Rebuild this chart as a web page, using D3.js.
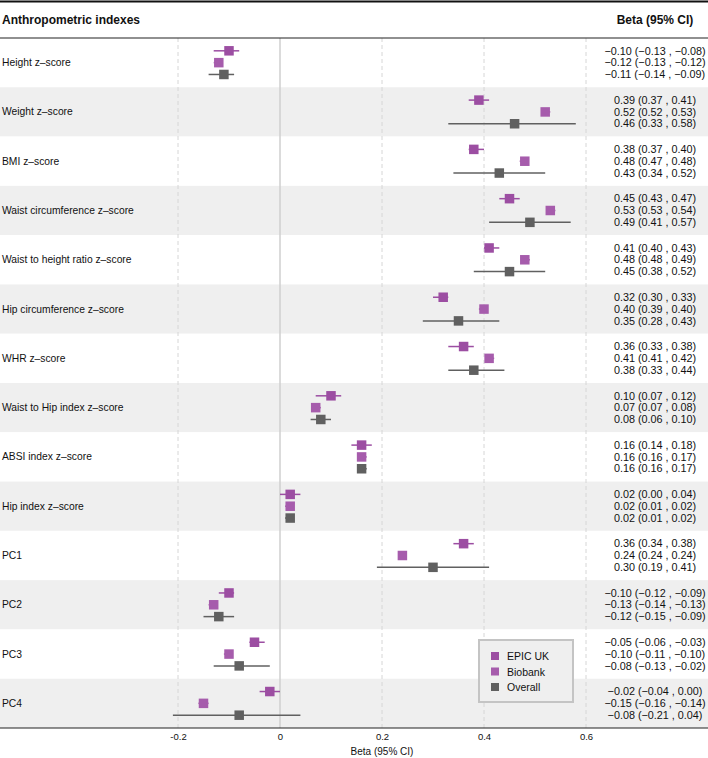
<!DOCTYPE html>
<html>
<head>
<meta charset="utf-8">
<script src="https://cdn.jsdelivr.net/npm/d3@7"></script>
<style>
  body { margin: 0; background: #fff; }
  text { font-family: "Liberation Sans", Arial, Helvetica, sans-serif; }
</style>
</head>
<body>
<div id="chart"></div>
<script>
var width = 708;
var height = 758;

// data
var indexes = ["Height z\u2013score", "Weight z\u2013score", "BMI z\u2013score", "Waist circumference z\u2013score",
  "Waist to height ratio z\u2013score", "Hip circumference z\u2013score", "WHR z\u2013score",
  "Waist to Hip index z\u2013score", "ABSI index z\u2013score", "Hip index z\u2013score",
  "PC1", "PC2", "PC3", "PC4"];
var cohorts = ["EPIC UK", "Biobank", "Overall"];

// [beta, lower, upper] per index
var epicUK = [[-0.10, -0.13, -0.08], [0.39, 0.37, 0.41], [0.38, 0.37, 0.40], [0.45, 0.43, 0.47],
  [0.41, 0.40, 0.43], [0.32, 0.30, 0.33], [0.36, 0.33, 0.38], [0.10, 0.07, 0.12],
  [0.16, 0.14, 0.18], [0.02, 0.00, 0.04], [0.36, 0.34, 0.38], [-0.10, -0.12, -0.09],
  [-0.05, -0.06, -0.03], [-0.02, -0.04, 0.00]];
var biobank = [[-0.12, -0.13, -0.12], [0.52, 0.52, 0.53], [0.48, 0.47, 0.48], [0.53, 0.53, 0.54],
  [0.48, 0.48, 0.49], [0.40, 0.39, 0.40], [0.41, 0.41, 0.42], [0.07, 0.07, 0.08],
  [0.16, 0.16, 0.17], [0.02, 0.01, 0.02], [0.24, 0.24, 0.24], [-0.13, -0.14, -0.13],
  [-0.10, -0.11, -0.10], [-0.15, -0.16, -0.14]];
var overall = [[-0.11, -0.14, -0.09], [0.46, 0.33, 0.58], [0.43, 0.34, 0.52], [0.49, 0.41, 0.57],
  [0.45, 0.38, 0.52], [0.35, 0.28, 0.43], [0.38, 0.33, 0.44], [0.08, 0.06, 0.10],
  [0.16, 0.16, 0.17], [0.02, 0.01, 0.02], [0.30, 0.19, 0.41], [-0.12, -0.15, -0.09],
  [-0.08, -0.13, -0.02], [-0.08, -0.21, 0.04]];
var xTicks = [-0.2, 0, 0.2, 0.4, 0.6];

var colors = { "EPIC UK": "#9c4ea2", "Biobank": "#a65cac", "Overall": "#606060" };

var svg = d3.select("#chart").append("svg")
  .attr("width", width)
  .attr("height", height);

var plotTop = 38, plotBottom = 728;

var x = d3.scaleLinear().domain([-0.2, 0.6]).range([178, 586]);
var y = d3.scaleBand().domain(indexes).range([plotTop, plotBottom]);
var sub = d3.scalePoint().domain(cohorts).range([0.26, 0.74]);

// row shading
svg.selectAll(".row")
  .data(indexes)
  .enter()
  .append("rect")
    .attr("x", 0)
    .attr("width", width)
    .attr("y", function(d) { return y(d); })
    .attr("height", y.bandwidth())
    .attr("fill", function(d, i) { return i % 2 == 1 ? "#efefef" : "#fff"; });

// grid lines
svg.selectAll(".grid")
  .data(xTicks)
  .enter()
  .append("line")
    .attr("x1", function(d) { return x(d); })
    .attr("x2", function(d) { return x(d); })
    .attr("y1", plotTop)
    .attr("y2", plotBottom)
    .attr("stroke", function(d) { return d == 0 ? "#cfcfcf" : "#d6d6d6"; })
    .attr("stroke-width", function(d) { return d == 0 ? 1.5 : 1; })
    .attr("stroke-dasharray", function(d) { return d == 0 ? null : "4,3"; });

// header lines
svg.append("line").attr("x1", 0).attr("x2", width).attr("y1", 1.5).attr("y2", 1.5)
  .attr("stroke", "#111").attr("stroke-width", 2);
svg.append("line").attr("x1", 0).attr("x2", width).attr("y1", plotTop).attr("y2", plotTop)
  .attr("stroke", "#222").attr("stroke-width", 1.2);

svg.append("text").attr("x", 2).attr("y", 24)
  .attr("font-size", 12).attr("font-weight", "bold").attr("fill", "#111")
  .text("Anthropometric indexes");
svg.append("text").attr("x", 655).attr("y", 24).attr("text-anchor", "middle")
  .attr("font-size", 12).attr("font-weight", "bold").attr("fill", "#111")
  .text("Beta (95% CI)");

// row labels
svg.selectAll(".label")
  .data(indexes)
  .enter()
  .append("text")
    .attr("x", 2)
    .attr("y", function(d) { return y(d) + y.bandwidth() / 2 + 3.5; })
    .attr("font-size", 10.3)
    .attr("fill", "#111")
    .text(function(d) { return d; });

// marks
var fmt = function(v) { return v.toFixed(2).replace("-", "\u2212"); };
var series = [epicUK, biobank, overall];
var size = 9.5;

cohorts.forEach(function(c, k) {
  var g = svg.append("g");
  var rows = indexes.map(function(name, i) {
    return { name: name, v: series[k][i] };
  });
  var yy = function(d) { return y(d.name) + y.bandwidth() * sub(c); };

  g.selectAll("line")
    .data(rows)
    .enter()
    .append("line")
      .attr("x1", function(d) { return x(d.v[1]); })
      .attr("x2", function(d) { return x(d.v[2]); })
      .attr("y1", yy)
      .attr("y2", yy)
      .attr("stroke", colors[c])
      .attr("stroke-width", 1.5);

  g.selectAll("rect")
    .data(rows)
    .enter()
    .append("rect")
      .attr("x", function(d) { return x(d.v[0]) - size / 2; })
      .attr("y", function(d) { return yy(d) - size / 2; })
      .attr("width", size)
      .attr("height", size)
      .attr("fill", colors[c]);

  g.selectAll("text")
    .data(rows)
    .enter()
    .append("text")
      .attr("x", 655)
      .attr("y", function(d) { return yy(d) + 3.7; })
      .attr("text-anchor", "middle")
      .attr("font-size", 10.8)
      .attr("fill", "#111")
      .text(function(d) {
        return fmt(d.v[0]) + " (" + fmt(d.v[1]) + " , " + fmt(d.v[2]) + ")";
      });
});

// x axis
var axis = svg.append("g")
  .attr("transform", "translate(0," + plotBottom + ")")
  .call(d3.axisBottom(x).tickValues(xTicks).tickSize(0).tickPadding(5)
    .tickFormat(function(d) { return d == 0 ? "0" : d.toFixed(1); }));
axis.select(".domain").remove();
axis.selectAll("text").attr("font-size", 9.5).attr("fill", "#111")
  .attr("font-family", "Liberation Sans, Arial, sans-serif");
svg.append("line").attr("x1", 0).attr("x2", width).attr("y1", plotBottom).attr("y2", plotBottom)
  .attr("stroke", "#222").attr("stroke-width", 1.2);

svg.append("text").attr("x", x(0.2)).attr("y", 755).attr("text-anchor", "middle")
  .attr("font-size", 10).attr("fill", "#111").text("Beta (95% CI)");

// legend
var lg = svg.append("g").attr("transform", "translate(479,640)");
lg.append("rect").attr("width", 94).attr("height", 62)
  .attr("fill", "#efefef").attr("stroke", "#c4c4c4").attr("stroke-width", 2);
cohorts.forEach(function(c, i) {
  lg.append("rect").attr("x", 12).attr("y", 12 + i * 15.5).attr("width", 8).attr("height", 8)
    .attr("fill", colors[c]);
  lg.append("text").attr("x", 28).attr("y", 20 + i * 15.5)
    .attr("font-size", 10.5).attr("fill", "#111").text(c);
});
</script>
</body>
</html>
